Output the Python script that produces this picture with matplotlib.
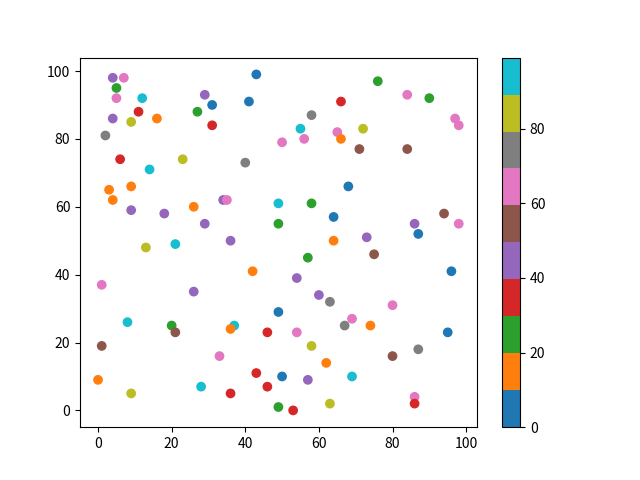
import matplotlib
matplotlib.use("Agg")
import matplotlib.pyplot as plt
from matplotlib.colors import Normalize

plt.rcParams['font.family'] = ['Noto Sans CJK SC', 'DejaVu Sans']

# colour codes: 5 blue, 15 orange, 25 green, 35 red, 45 purple,
# 55 brown, 65 pink, 75 gray, 85 olive, 95 cyan
x = [4, 7, 5, 5, 12, 11, 16, 4, 9, 2,
     6, 23, 14, 3, 9, 4, 9, 18, 26, 29,
     34, 35, 29, 31, 27, 31, 43, 41, 40, 50,
     49, 49, 76, 84, 90, 66, 58, 55, 72, 65,
     66, 56, 71, 84, 97, 98, 68, 58, 64, 94,
     86, 98, 87, 64, 73, 13, 21, 36, 42, 1,
     26, 49, 8, 20, 21, 37, 36, 46, 1, 33,
     43, 50, 46, 0, 9, 28, 36, 49, 57, 75,
     96, 54, 60, 63, 80, 69, 67, 74, 54, 95,
     58, 80, 87, 62, 57, 69, 86, 86, 53, 63]
y = [98, 98, 95, 92, 92, 88, 86, 86, 85, 81,
     74, 74, 71, 65, 66, 62, 59, 58, 60, 55,
     62, 62, 93, 90, 88, 84, 99, 91, 73, 79,
     61, 55, 97, 93, 92, 91, 87, 83, 83, 82,
     80, 80, 77, 77, 86, 84, 66, 61, 57, 58,
     55, 55, 52, 50, 51, 48, 49, 50, 41, 37,
     35, 29, 26, 25, 23, 25, 24, 23, 19, 16,
     11, 10, 7, 9, 5, 7, 5, 1, 45, 46,
     41, 39, 34, 32, 31, 27, 25, 25, 23, 23,
     19, 16, 18, 14, 9, 10, 4, 2, 0, 2]
c = [45, 65, 25, 65, 95, 35, 15, 45, 85, 75,
     35, 85, 95, 15, 15, 15, 45, 45, 15, 45,
     45, 65, 45, 5, 25, 35, 5, 5, 75, 65,
     95, 25, 25, 65, 25, 35, 75, 95, 85, 65,
     15, 65, 55, 55, 65, 65, 5, 25, 5, 55,
     45, 65, 5, 15, 45, 85, 95, 45, 15, 65,
     45, 5, 95, 25, 55, 95, 15, 35, 55, 65,
     35, 5, 35, 15, 85, 95, 35, 25, 25, 55,
     5, 45, 45, 75, 65, 65, 75, 15, 65, 5,
     85, 55, 75, 15, 45, 95, 65, 35, 35, 85]

fig = plt.figure(figsize=(6.4, 4.8), dpi=100)
sc = plt.scatter(x, y, c=c, cmap='tab10', norm=Normalize(vmin=0, vmax=99))
plt.colorbar(sc)
plt.savefig('out.png')
